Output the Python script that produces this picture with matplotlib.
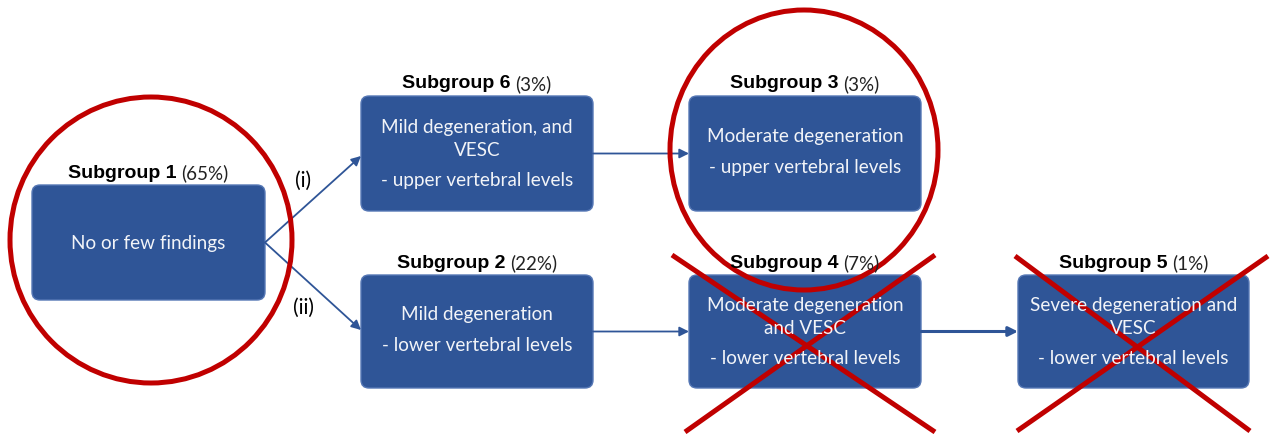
import matplotlib.pyplot as plt
from matplotlib.patches import FancyBboxPatch, Ellipse, FancyArrowPatch

# data
groups = ["Subgroup 1", "Subgroup 6", "Subgroup 3", "Subgroup 2", "Subgroup 4", "Subgroup 5"]
shares = ["(65%)", "(3%)", "(3%)", "(22%)", "(7%)", "(1%)"]
texts = [["No or few findings"],
         ["Mild degeneration, and", "VESC", "- upper vertebral levels"],
         ["Moderate degeneration", "- upper vertebral levels"],
         ["Mild degeneration", "- lower vertebral levels"],
         ["Moderate degeneration", "and VESC", "- lower vertebral levels"],
         ["Severe degeneration and", "VESC", "- lower vertebral levels"]]
# box layout in pixels: left, top, width, height
boxes = [(32, 185, 233, 115), (361, 96, 232, 115), (689, 96, 232, 115),
         (361, 275, 232, 113), (689, 275, 232, 113), (1018, 275, 231, 113)]
links = [(0, 1), (0, 3), (1, 2), (3, 4), (4, 5)]
link_labels = {(0, 1): "(i)", (0, 3): "(ii)"}
# circles: centre x, centre y, width, height
circles = [(151, 240, 282, 286), (804, 150, 268, 280)]
# crosses: two lines each, (x0, y0, x1, y1)
crosses = [[(672, 255, 935, 432), (935, 255, 685, 432)],
           [(1015, 256, 1250, 431), (1268, 256, 1017, 431)]]

blue = "#2F5597"
red = "#C00000"

fig = plt.figure(figsize=(12.71, 4.34), dpi=100)
ax = fig.add_axes([0, 0, 1, 1])
ax.set_xlim(0, 1271)
ax.set_ylim(434, 0)
ax.axis("off")

gap = 5
titles = []
for i, (x, y, w, h) in enumerate(boxes):
    ax.add_patch(FancyBboxPatch((x + 8, y + 8), w - 16, h - 16,
                                boxstyle="round,pad=8", fc=blue, ec="#5577B5", lw=1))
    lines = texts[i]
    cy = y + h / 2
    if len(lines) == 1:
        ys = [cy + 1]
    elif len(lines) == 2:
        ys = [cy - 17, cy + 14]
    else:
        ys = [cy - 26, cy - 3, cy + 27]
    for t, ty in zip(lines, ys):
        ax.text(x + w / 2, ty, t, ha="center", va="center", color="#F2F4F8",
                fontsize=13.6, family="Lato")
    t1 = ax.text(x + w / 2, y - 12, groups[i], ha="right", va="center",
                 fontsize=14, family="Liberation Sans", fontweight="bold", color="black")
    t2 = ax.text(x + w / 2, y - 12, shares[i], ha="left", va="center",
                 fontsize=13.5, family="Lato", color="#222222")
    titles.append((t1, t2, x + w / 2))

# centre the two-part titles over their boxes
fig.canvas.draw()
r = fig.canvas.get_renderer()
for t1, t2, cx in titles:
    w1 = t1.get_window_extent(r).width
    w2 = t2.get_window_extent(r).width
    left = cx - (w1 + gap + w2) / 2
    t1.set_x(left + w1)
    t2.set_x(left + w1 + gap)

# arrows
for a, b in links:
    ax0, ay0, aw, ah = boxes[a]
    bx0, by0, bw, bh = boxes[b]
    start = (ax0 + aw, ay0 + ah / 2)
    end = (bx0, by0 + bh / 2)
    if a == 0:
        end = (bx0, by0 + 60 if b == 1 else by0 + 55)
    lw = 2.2 if a == 4 else 1.3
    ax.add_patch(FancyArrowPatch(start, end, arrowstyle="-|>", mutation_scale=14,
                                 color=blue, lw=lw, shrinkA=0, shrinkB=0))
    if (a, b) in link_labels:
        ly = 181 if b == 1 else 308
        ax.text(303, ly, link_labels[(a, b)], ha="center", va="center",
                fontsize=15, family="Lato", color="black")

# red circles
for cx, cy, cw, ch in circles:
    ax.add_patch(Ellipse((cx, cy), cw, ch, fill=False, ec=red, lw=3.6))

# red crosses
for pair in crosses:
    for x0, y0, x1, y1 in pair:
        ax.plot([x0, x1], [y0, y1], color=red, lw=3.6, solid_capstyle="butt")

fig.savefig("out.png", dpi=100)
